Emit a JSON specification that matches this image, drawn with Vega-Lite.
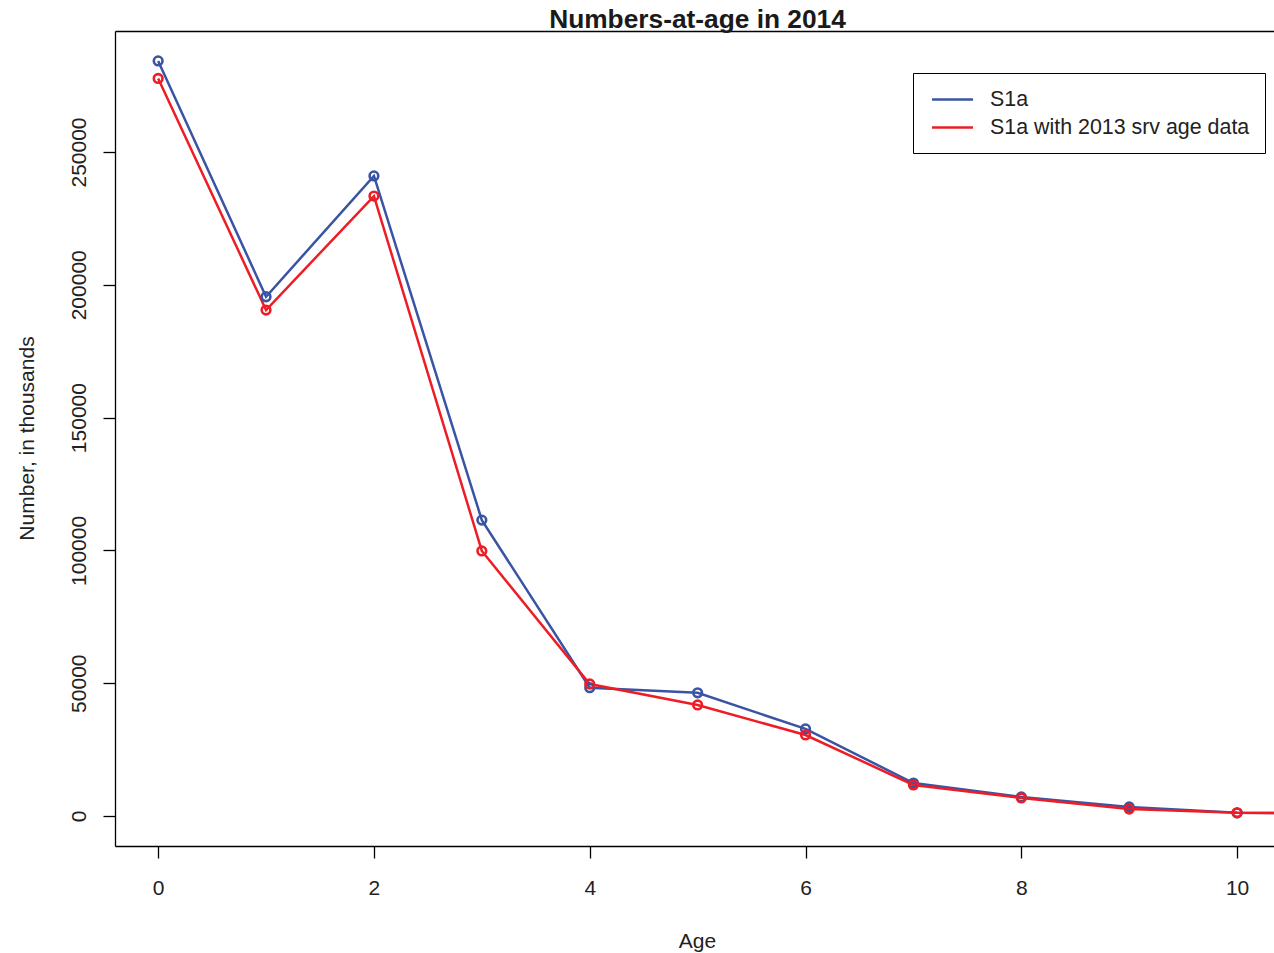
{
  "$schema": "https://vega.github.io/schema/vega-lite/v6.json",
  "width": 1159,
  "height": 815,
  "autosize": {"type": "none"},
  "padding": {"left": 115, "top": 31, "right": 0, "bottom": 107},
  "background": "white",
  "title": {"text": "Numbers-at-age in 2014", "font": "Liberation Sans", "fontSize": 26.3, "fontWeight": "bold", "color": "#1a1a1a", "anchor": "middle", "baseline": "bottom", "offset": -29, "dx": 3},
  "config": {
    "view": {"stroke": null},
    "axis": {"grid": false, "domainColor": "black", "domainWidth": 1.3, "tickColor": "black", "tickWidth": 1.3, "tickSize": 12, "labelFont": "Liberation Sans", "labelFontSize": 21, "labelColor": "#222222", "titleFont": "Liberation Sans", "titleFontSize": 21, "titleFontWeight": "normal", "titleColor": "#222222"}
  },
  "data": {"values": [
    {"age": 0, "series": "S1a", "value": 284300},
    {"age": 1, "series": "S1a", "value": 195500},
    {"age": 2, "series": "S1a", "value": 241000},
    {"age": 3, "series": "S1a", "value": 111400},
    {"age": 4, "series": "S1a", "value": 48300},
    {"age": 5, "series": "S1a", "value": 46400},
    {"age": 6, "series": "S1a", "value": 32800},
    {"age": 7, "series": "S1a", "value": 12400},
    {"age": 8, "series": "S1a", "value": 7200},
    {"age": 9, "series": "S1a", "value": 3400},
    {"age": 10, "series": "S1a", "value": 1200},
    {"age": 11, "series": "S1a", "value": 1000},
    {"age": 0, "series": "S1a with 2013 srv age data", "value": 277700},
    {"age": 1, "series": "S1a with 2013 srv age data", "value": 190500},
    {"age": 2, "series": "S1a with 2013 srv age data", "value": 233400},
    {"age": 3, "series": "S1a with 2013 srv age data", "value": 99800},
    {"age": 4, "series": "S1a with 2013 srv age data", "value": 49700},
    {"age": 5, "series": "S1a with 2013 srv age data", "value": 41800},
    {"age": 6, "series": "S1a with 2013 srv age data", "value": 30500},
    {"age": 7, "series": "S1a with 2013 srv age data", "value": 11700},
    {"age": 8, "series": "S1a with 2013 srv age data", "value": 6800},
    {"age": 9, "series": "S1a with 2013 srv age data", "value": 2600},
    {"age": 10, "series": "S1a with 2013 srv age data", "value": 1200},
    {"age": 11, "series": "S1a with 2013 srv age data", "value": 1000}
  ]},
  "layer": [
    {
      "mark": {"type": "line", "strokeWidth": 2.5, "clip": true},
      "encoding": {
        "x": {"field": "age", "type": "quantitative", "scale": {"domain": [-0.4, 10.342], "nice": false, "zero": false},
              "axis": {"orient": "bottom", "values": [0, 2, 4, 6, 8, 10], "labelAngle": 0, "labelAlign": "center", "labelBaseline": "alphabetic", "labelPadding": 36, "title": "Age", "titleX": 582, "titleY": 101, "titleBaseline": "alphabetic", "titleAlign": "center"}},
        "y": {"field": "value", "type": "quantitative", "scale": {"domain": [-11295, 295557], "nice": false, "zero": false},
              "axis": {"values": [0, 50000, 100000, 150000, 200000, 250000], "format": "d", "labelAngle": -90, "labelAlign": "center", "labelBaseline": "alphabetic", "labelPadding": 18, "title": "Number, in thousands", "titleAngle": -90, "titleX": -82, "titleY": 407, "titleBaseline": "alphabetic", "titleAlign": "center"}},
        "color": {"field": "series", "type": "nominal",
                  "scale": {"domain": ["S1a", "S1a with 2013 srv age data"], "range": ["#3A54A4", "#EE1D25"]},
                  "legend": {"orient": "none", "legendX": 798, "legendY": 42, "title": null, "symbolType": "M-2,0H2", "symbolSize": 420, "symbolStrokeWidth": 2.5, "symbolOffset": 13, "rowPadding": 6, "padding": 15, "labelOffset": 26, "labelFont": "Liberation Sans", "labelFontSize": 21.4, "labelColor": "#222222", "strokeColor": "black", "fillColor": "white", "labelLimit": 400}}
      }
    },
    {
      "mark": {"type": "point", "shape": "circle", "filled": false, "size": 75, "strokeWidth": 2.6, "opacity": 1, "clip": true},
      "encoding": {
        "x": {"field": "age", "type": "quantitative", "scale": {"domain": [-0.4, 10.342], "nice": false, "zero": false},
              "axis": {"orient": "top", "labels": false, "ticks": false, "domain": true, "title": null, "values": []}},
        "y": {"field": "value", "type": "quantitative"},
        "color": {"field": "series", "type": "nominal", "legend": null}
      }
    }
  ],
  "resolve": {"axis": {"x": "independent"}}
}
